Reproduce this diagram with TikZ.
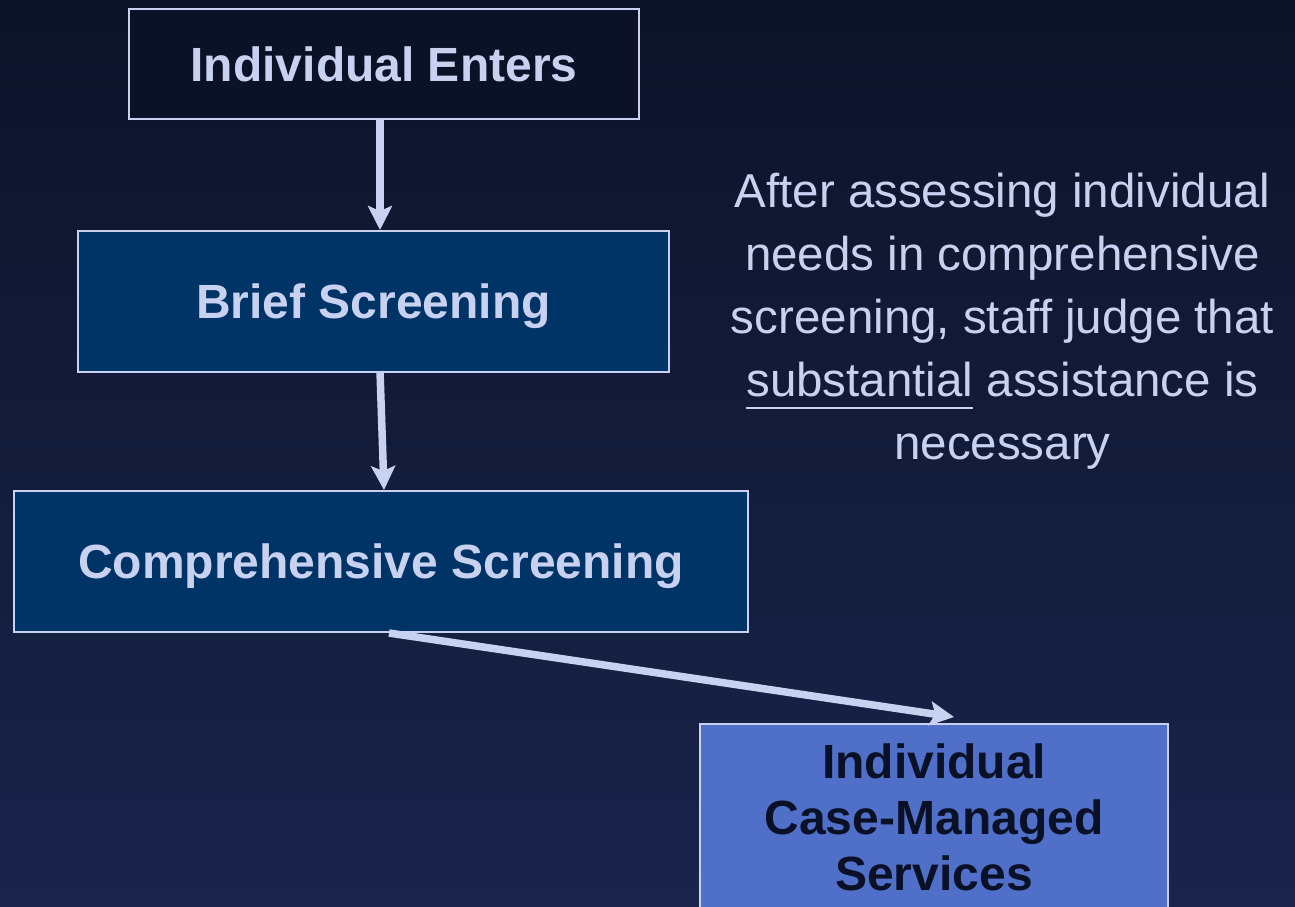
\documentclass[tikz,border=0pt]{standalone}
\usepackage{fontspec}
\setmainfont{Liberation Sans}
\usetikzlibrary{arrows.meta}
\definecolor{bgtop}{RGB}{13,19,40}
\definecolor{bgbot}{RGB}{26,36,76}
\definecolor{lav}{RGB}{200,210,240}
\definecolor{darkbox}{RGB}{11,17,38}
\definecolor{navybox}{RGB}{0,51,102}
\definecolor{bluebox}{RGB}{80,111,200}
\definecolor{inktext}{RGB}{10,16,38}
\newcommand\myul[1]{\setbox0\hbox{#1}\rlap{\rule[-12.5pt]{\wd0}{2.5pt}}\box0\relax}
\begin{document}
\begin{tikzpicture}[x=1pt,y=-1pt,
  stepbox/.style={draw=lav, line width=2pt, text=lav, inner sep=0pt, align=center,
    font=\fontsize{48}{56}\selectfont\bfseries},
  oneline/.style={text height=34.4pt, text depth=0pt},
  flow/.style={draw=lav, line width=7.5pt, -{Stealth[length=24pt,width=24pt,inset=5pt]}}]
\useasboundingbox (0,0) rectangle (1295,906);
\clip (0,0) rectangle (1295,906);
\shade[top color=bgtop, bottom color=bgbot] (0,0) rectangle (1295,906);

\node[stepbox, oneline, fill=darkbox, minimum width=510pt, minimum height=110pt] (enters) at (384,64) {Individual Enters};
\node[stepbox, oneline, fill=navybox, minimum width=591pt, minimum height=141pt] (brief) at (373.5,301.5) {Brief Screening};
\node[stepbox, oneline, fill=navybox, minimum width=734pt, minimum height=141pt] (comp) at (381,561.5) {Comprehensive Screening};
\node[stepbox, fill=bluebox, text=inktext, minimum width=468pt, minimum height=186pt] (case) at (934,817) {Individual\\Case-Managed\\Services};

\node[text=lav, align=center, inner sep=0pt, anchor=base,
  font=\fontsize{47.5}{63}\selectfont] (note) at (1002.5,459.7)
  {After assessing individual\\needs in comprehensive\\screening, staff judge that\\\myul{substantial} assistance is\\necessary};

\draw[flow] ([xshift=-4pt]enters.south) -- ([xshift=6.5pt]brief.north);
\draw[flow] ([xshift=6.5pt,yshift=2pt]brief.south) -- ([xshift=3pt]comp.north);
\draw[flow] ([xshift=8pt]comp.south) -- ([xshift=20pt,yshift=6pt]case.north);
\end{tikzpicture}
\end{document}
